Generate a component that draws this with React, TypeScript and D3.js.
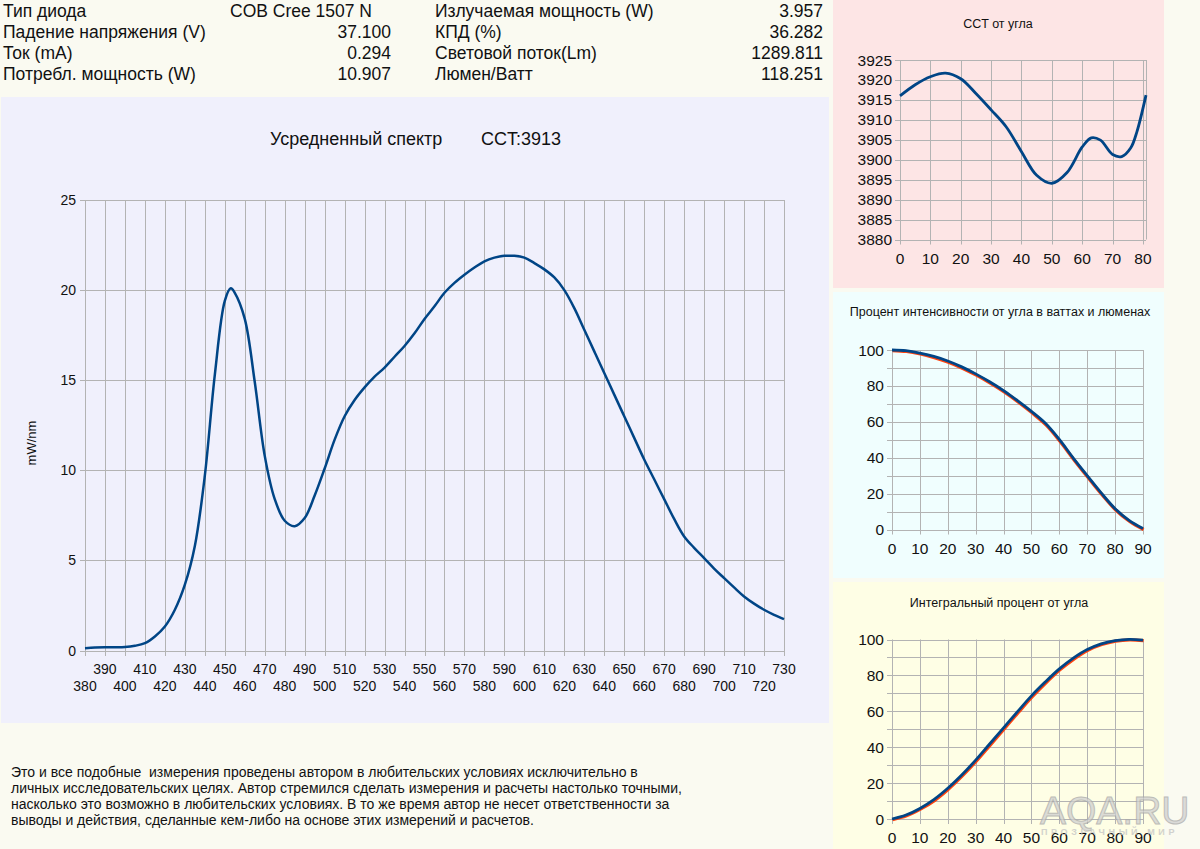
import React, { useRef, useEffect } from "react";
import * as d3 from "d3";

// header table
const leftLabels = ["Тип диода", "Падение напряжения (V)", "Ток (mA)", "Потребл. мощность (W)"];
const leftValues = ["COB Cree 1507 N", "37.100", "0.294", "10.907"];
const rightLabels = ["Излучаемая мощность (W)", "КПД (%)", "Световой поток(Lm)", "Люмен/Ватт"];
const rightValues = ["3.957", "36.282", "1289.811", "118.251"];

// averaged spectrum, mW/nm
const wavelengths = [
  380, 385, 390, 395, 400, 405, 410, 415, 420, 425, 430, 435, 440, 445, 450, 453, 455, 460, 465, 470,
  475, 480, 485, 490, 495, 500, 505, 510, 515, 520, 525, 530, 535, 540, 545, 550, 555, 560, 565, 570,
  575, 580, 585, 590, 595, 600, 605, 610, 615, 620, 625, 630, 635, 640, 645, 650, 655, 660, 665, 670,
  675, 680, 685, 690, 695, 700, 705, 710, 715, 720, 725, 730,
];
const spectrum = [
  0.13, 0.16, 0.18, 0.18, 0.19, 0.26, 0.41, 0.78, 1.33, 2.26, 3.65, 5.8, 9.7, 15.3, 19.4, 20.1, 19.85, 18.4, 14.9, 10.8,
  8.4, 7.2, 6.9, 7.35, 8.6, 10.1, 11.7, 13.0, 13.9, 14.6, 15.2, 15.7, 16.3, 16.9, 17.6, 18.4, 19.1, 19.85, 20.4, 20.85,
  21.25, 21.6, 21.8, 21.9, 21.9, 21.8, 21.5, 21.15, 20.7, 20.0, 19.0, 17.8, 16.6, 15.4, 14.2, 13.0, 11.8, 10.6, 9.5, 8.4,
  7.3, 6.33, 5.7, 5.13, 4.55, 4.02, 3.5, 3.0, 2.6, 2.26, 1.98, 1.74,
];

// CCT vs angle
const cctAngles = [0, 5, 10, 15, 20, 25, 30, 35, 40, 45, 50, 55, 60, 63, 66, 70, 73, 76, 78, 81];
const cctValues = [
  3916.0, 3918.8, 3920.8, 3921.7, 3920.3, 3916.6, 3912.5, 3908.2, 3902.0, 3896.1,
  3894.1, 3896.8, 3903.2, 3905.5, 3904.9, 3901.3, 3900.8, 3903.0, 3907.0, 3916.2,
];

// intensity vs angle (watts, lumens), %
const angles = [0, 5, 10, 15, 20, 25, 30, 35, 40, 45, 50, 55, 60, 65, 70, 75, 80, 85, 90];
const intensityW = [100, 99.6, 98.3, 96.4, 93.9, 90.6, 86.7, 82.3, 77.4, 71.8, 65.8, 59.2, 50.2, 39.8, 30.0, 20.4, 11.6, 5.1, 0.5];
const intensityLm = [100, 99.5, 98.1, 96.1, 93.5, 90.2, 86.3, 81.9, 77.0, 71.4, 65.3, 58.6, 49.5, 39.2, 29.4, 19.9, 11.2, 4.8, 0.3];

// integral percent vs angle
const integralW = [0, 2.2, 5.9, 10.8, 17.1, 24.5, 32.8, 41.8, 50.8, 59.8, 68.6, 76.4, 83.6, 89.6, 94.4, 97.6, 99.4, 100.1, 99.7];
const integralLm = [0, 2.1, 5.8, 10.6, 16.9, 24.3, 32.5, 41.5, 50.5, 59.5, 68.3, 76.2, 83.4, 89.4, 94.3, 97.5, 99.4, 100.1, 99.7];

const disclaimer = [
  "Это и все подобные  измерения проведены автором в любительских условиях исключительно в",
  "личных исследовательских целях. Автор стремился сделать измерения и расчеты настолько точными,",
  "насколько это возможно в любительских условиях. В то же время автор не несет ответственности за",
  "выводы и действия, сделанные кем-либо на основе этих измерений и расчетов.",
];

const FONT = "'Liberation Sans', Arial, sans-serif";
const GRID = "#b3b3b3";
const BLUE = "#004586";
const RED = "#ff420e";

function drawSmallChart(svg, cfg) {
  const x = d3.scaleLinear().domain(cfg.xDomain).range([cfg.left, cfg.right]);
  const y = d3.scaleLinear().domain(cfg.yDomain).range([cfg.bottom, cfg.top]);
  const g = svg.append("g");

  g.append("text")
    .attr("x", cfg.titleX)
    .attr("y", cfg.titleY)
    .attr("text-anchor", "middle")
    .style("font-size", "12.5px")
    .attr("fill", "#111")
    .text(cfg.title);

  // horizontal grid
  g.selectAll(".hg")
    .data(cfg.yGrid)
    .enter()
    .append("line")
    .attr("x1", cfg.left - 5)
    .attr("x2", cfg.right)
    .attr("y1", (d) => Math.round(y(d)) + 0.5)
    .attr("y2", (d) => Math.round(y(d)) + 0.5)
    .attr("stroke", GRID);

  // vertical grid
  g.selectAll(".vg")
    .data(cfg.xGrid)
    .enter()
    .append("line")
    .attr("x1", (d) => Math.round(x(d)) + 0.5)
    .attr("x2", (d) => Math.round(x(d)) + 0.5)
    .attr("y1", cfg.top)
    .attr("y2", cfg.bottom + 5)
    .attr("stroke", GRID);

  // right edge of the frame
  g.append("line")
    .attr("x1", Math.round(cfg.right) + 0.5)
    .attr("x2", Math.round(cfg.right) + 0.5)
    .attr("y1", cfg.top)
    .attr("y2", cfg.bottom)
    .attr("stroke", GRID);

  g.selectAll(".yl")
    .data(cfg.yLabels)
    .enter()
    .append("text")
    .attr("x", cfg.left - 8)
    .attr("y", (d) => y(d) + 5.5)
    .attr("text-anchor", "end")
    .style("font-size", "15.5px")
    .attr("fill", "#111")
    .text((d) => d);

  g.selectAll(".xl")
    .data(cfg.xLabels)
    .enter()
    .append("text")
    .attr("x", (d) => x(d))
    .attr("y", cfg.bottom + 24)
    .attr("text-anchor", "middle")
    .style("font-size", "15.5px")
    .attr("fill", "#111")
    .text((d) => d);

  cfg.series.forEach((s) => {
    const line = d3
      .line()
      .x((d) => x(d[0]) + (s.dx || 0))
      .y((d) => y(d[1]) + (s.dy || 0))
      .curve(d3.curveCatmullRom.alpha(0.5));
    g.append("path")
      .attr("d", line(s.xs.map((v, i) => [v, s.ys[i]])))
      .attr("fill", "none")
      .attr("stroke", s.color)
      .attr("stroke-width", s.width)
      .attr("stroke-linejoin", "round");
  });
}

export default function App() {
  const svgRef = useRef(null);

  useEffect(() => {
    document.body.style.margin = "0";
    const svg = d3.select(svgRef.current);
    svg.selectAll("*").remove();
    svg.style("font-family", FONT);

    // backgrounds
    svg.append("rect").attr("width", 1200).attr("height", 849).attr("fill", "#fafaf1");
    svg.append("rect").attr("x", 1).attr("y", 97).attr("width", 828).attr("height", 626).attr("fill", "#f0f0fc");
    svg.append("rect").attr("x", 833).attr("y", 0).attr("width", 331).attr("height", 288).attr("fill", "#fde5e5");
    svg.append("rect").attr("x", 833).attr("y", 292).attr("width", 331).attr("height", 286).attr("fill", "#f0fefe");
    svg.append("rect").attr("x", 833).attr("y", 582).attr("width", 331).attr("height", 267).attr("fill", "#fefee5");

    // header table
    const header = svg.append("g").style("font-size", "17.5px").attr("fill", "#111");
    leftLabels.forEach((t, i) => {
      const yy = 17 + i * 21;
      header.append("text").attr("x", 3).attr("y", yy).text(t);
      const isText = isNaN(Number(leftValues[i]));
      header
        .append("text")
        .attr("x", isText ? 230 : 391)
        .attr("y", yy)
        .attr("text-anchor", isText ? "start" : "end")
        .text(leftValues[i]);
    });
    rightLabels.forEach((t, i) => {
      const yy = 17 + i * 21;
      header.append("text").attr("x", 435).attr("y", yy).text(t);
      header.append("text").attr("x", 823).attr("y", yy).attr("text-anchor", "end").text(rightValues[i]);
    });

    // main spectrum chart
    const x = d3.scaleLinear().domain([380, 730]).range([85, 784]);
    const y = d3.scaleLinear().domain([0, 25]).range([650.5, 200]);
    const main = svg.append("g");

    main.append("text").attr("x", 270).attr("y", 145).style("font-size", "18px").attr("fill", "#111").text("Усредненный спектр");
    main.append("text").attr("x", 561).attr("y", 145).attr("text-anchor", "end").style("font-size", "18px").attr("fill", "#111").text("CCT:3913");

    const xGrid = d3.range(380, 731, 10);
    const yGrid = d3.range(0, 26, 5);

    main.selectAll(".hg")
      .data(yGrid)
      .enter()
      .append("line")
      .attr("x1", 80)
      .attr("x2", 784)
      .attr("y1", (d) => Math.round(y(d)) + 0.5)
      .attr("y2", (d) => Math.round(y(d)) + 0.5)
      .attr("stroke", GRID);

    main.selectAll(".vg")
      .data(xGrid)
      .enter()
      .append("line")
      .attr("x1", (d) => Math.round(x(d)) + 0.5)
      .attr("x2", (d) => Math.round(x(d)) + 0.5)
      .attr("y1", 200)
      .attr("y2", 656)
      .attr("stroke", GRID);

    main.selectAll(".yl")
      .data(yGrid)
      .enter()
      .append("text")
      .attr("x", 76)
      .attr("y", (d) => y(d) + 5)
      .attr("text-anchor", "end")
      .style("font-size", "14px")
      .attr("fill", "#111")
      .text((d) => d);

    main.selectAll(".xl")
      .data(xGrid)
      .enter()
      .append("text")
      .attr("x", (d) => x(d))
      .attr("y", (d, i) => (i % 2 === 1 ? 674 : 691))
      .attr("text-anchor", "middle")
      .style("font-size", "14px")
      .attr("fill", "#111")
      .text((d) => d);

    main.append("text")
      .attr("transform", "translate(36,443) rotate(-90)")
      .attr("text-anchor", "middle")
      .style("font-size", "13px")
      .attr("fill", "#111")
      .text("mW/nm");

    const specLine = d3
      .line()
      .x((d) => x(d[0]))
      .y((d) => y(d[1]))
      .curve(d3.curveCatmullRom.alpha(0.5));
    main.append("path")
      .attr("d", specLine(wavelengths.map((w, i) => [w, spectrum[i]])))
      .attr("fill", "none")
      .attr("stroke", BLUE)
      .attr("stroke-width", 2.5);

    // CCT vs angle
    drawSmallChart(svg, {
      title: "CCT от угла",
      titleX: 998,
      titleY: 28,
      left: 900,
      right: 1146,
      top: 60,
      bottom: 239.5,
      xDomain: [0, 81],
      yDomain: [3880, 3925],
      xGrid: d3.range(0, 81, 10),
      yGrid: d3.range(3880, 3926, 5),
      xLabels: d3.range(0, 81, 10),
      yLabels: d3.range(3880, 3926, 5),
      series: [{ xs: cctAngles, ys: cctValues, color: BLUE, width: 2.8 }],
    });

    // intensity vs angle
    drawSmallChart(svg, {
      title: "Процент интенсивности от угла в ваттах и люменах",
      titleX: 1000,
      titleY: 316,
      left: 892,
      right: 1143,
      top: 350,
      bottom: 529.5,
      xDomain: [0, 90],
      yDomain: [0, 100],
      xGrid: d3.range(0, 91, 10),
      yGrid: d3.range(0, 101, 10),
      xLabels: d3.range(0, 91, 10),
      yLabels: d3.range(0, 101, 20),
      series: [
        { xs: angles, ys: intensityLm, color: RED, width: 3.2, dx: 0.6, dy: 0.6 },
        { xs: angles, ys: intensityW, color: BLUE, width: 2.8 },
      ],
    });

    // integral percent vs angle
    drawSmallChart(svg, {
      title: "Интегральный процент от угла",
      titleX: 999,
      titleY: 607,
      left: 892,
      right: 1143,
      top: 639.5,
      bottom: 819,
      xDomain: [0, 90],
      yDomain: [0, 100],
      xGrid: d3.range(0, 91, 10),
      yGrid: d3.range(0, 101, 10),
      xLabels: d3.range(0, 91, 10),
      yLabels: d3.range(0, 101, 20),
      series: [
        { xs: angles, ys: integralLm, color: RED, width: 3.2, dx: 0.6, dy: 0.6 },
        { xs: angles, ys: integralW, color: BLUE, width: 2.8 },
      ],
    });

    // disclaimer
    const notes = svg.append("g").style("font-size", "14px").attr("fill", "#111");
    disclaimer.forEach((t, i) => {
      notes.append("text").attr("x", 11).attr("y", 777 + i * 16).style("white-space", "pre").text(t);
    });

    // watermark
    const wm = svg.append("g").attr("opacity", 0.75);
    wm.append("text")
      .attr("x", 1040)
      .attr("y", 824)
      .style("font-size", "39px")
      .attr("fill", "#d0d0d0")
      .attr("stroke", "#a8a8a8")
      .attr("stroke-width", 1)
      .text("AQA.RU");
    wm.append("text")
      .attr("x", 1041)
      .attr("y", 835)
      .style("font-size", "9px")
      .style("font-weight", "bold")
      .style("letter-spacing", "3.6px")
      .attr("fill", "#c4c4c4")
      .text("ПРОЗРАЧНЫЙ МИР");
  }, []);

  return <svg ref={svgRef} width={1200} height={849} style={{ display: "block" }}></svg>;
}
